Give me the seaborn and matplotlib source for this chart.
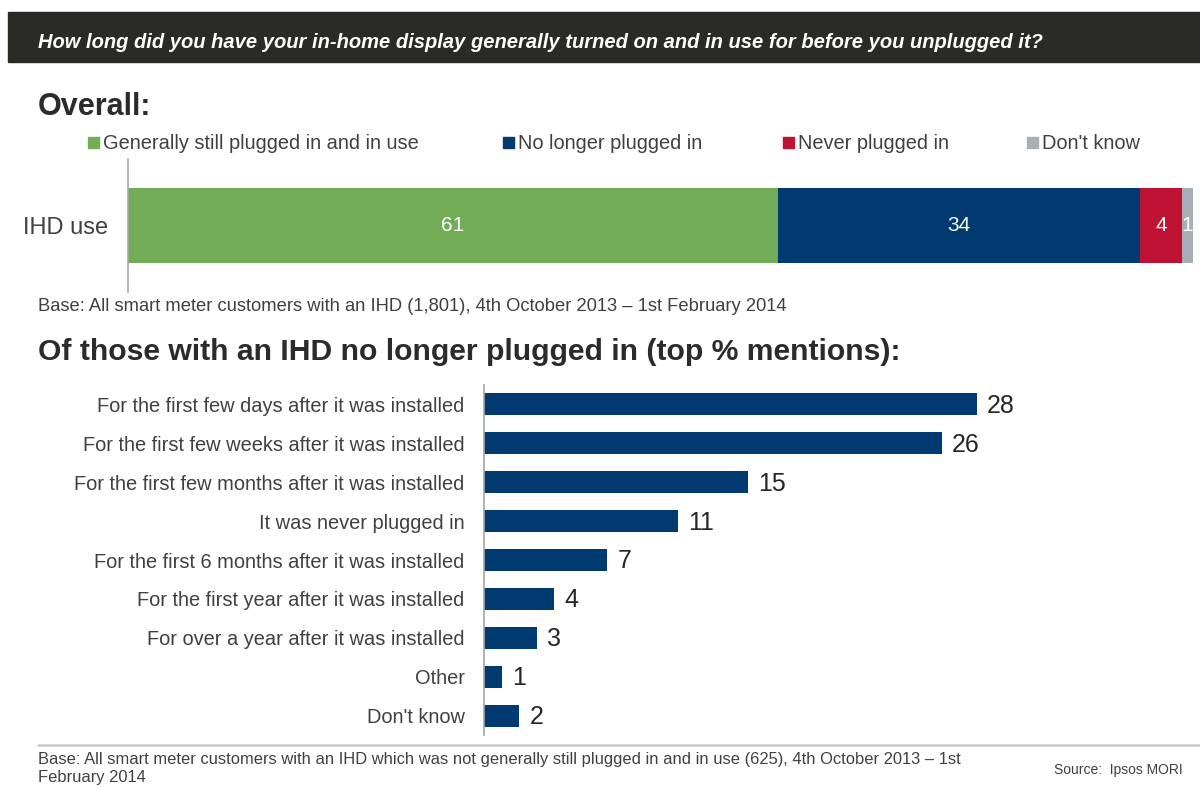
import numpy as np
import pandas as pd
import matplotlib
matplotlib.use("Agg")
import matplotlib.pyplot as plt
from matplotlib.patches import Rectangle
import seaborn as sns

# ---- data -------------------------------------------------------------
overall_labels = ["Generally still plugged in and in use", "No longer plugged in",
                  "Never plugged in", "Don't know"]
overall_values = [61, 34, 4, 1]
overall_row = "IHD use"

reason_labels = [
    "For the first few days after it was installed",
    "For the first few weeks after it was installed",
    "For the first few months after it was installed",
    "It was never plugged in",
    "For the first 6 months after it was installed",
    "For the first year after it was installed",
    "For over a year after it was installed",
    "Other",
    "Don't know",
]
reason_values = [28, 26, 15, 11, 7, 4, 3, 1, 2]

header_text = ("How long did you have your in-home display generally turned on "
               "and in use for before you unplugged it?")
title_overall = "Overall:"
title_reasons = "Of those with an IHD no longer plugged in (top % mentions):"
base_overall = "Base: All smart meter customers with an IHD (1,801), 4th October 2013 \u2013 1st February 2014"
base_reasons_1 = ("Base: All smart meter customers with an IHD which was not generally still plugged in "
                  "and in use (625), 4th October 2013 \u2013 1st")
base_reasons_2 = "February 2014"
source_text = "Source:  Ipsos MORI"

# ---- style ------------------------------------------------------------
sns.set_theme(style="white")
plt.rcParams["font.family"] = ["Liberation Sans", "DejaVu Sans"]

GREEN = "#72ac56"
NAVY = "#003a70"
RED = "#c01233"
GREY = "#a7aeb5"
seg_colors = [GREEN, NAVY, RED, GREY]
TXT = "#404040"
DARK = "#262626"
SPINE = "#a6a6a6"

W, H = 1200, 787
fig = plt.figure(figsize=(W / 100, H / 100), dpi=100)


def fx(x):
    return x / W


def fy(y):
    return 1 - y / H


def px_axes(x0, y0, x1, y1):
    return fig.add_axes([fx(x0), fy(y1), (x1 - x0) / W, (y1 - y0) / H])


# ---- header band ------------------------------------------------------
fig.patches.append(Rectangle((fx(8), fy(62)), (1200 - 8) / W, 50 / H,
                             transform=fig.transFigure, color="#2a2a26", zorder=0))
fig.text(fx(38), fy(48), header_text, color="white", fontsize=14.5,
         fontweight="bold", fontstyle="italic", va="baseline", ha="left")

# ---- overall stacked bar ---------------------------------------------
fig.text(fx(38), fy(115), title_overall, color="#2b2b2b", fontsize=22,
         fontweight="bold", va="baseline")

legend_x = [88, 503, 783, 1027]
for lx, lab, col in zip(legend_x, overall_labels, seg_colors):
    fig.patches.append(Rectangle((fx(lx), fy(148)), 11 / W, 11 / H,
                                 transform=fig.transFigure, color=col))
    fig.text(fx(lx + 15), fy(149), lab, color=TXT, fontsize=14.4, va="baseline")

ax1 = px_axes(128, 159, 1193, 292)
cum = np.cumsum(overall_values)
starts = cum - np.array(overall_values)
# overlapping cumulative bars produce the stacked look
for total, col in zip(cum[::-1], seg_colors[::-1]):
    sns.barplot(x=[total], y=[overall_row], orient="h", color=col,
                width=0.571, saturation=1, linewidth=0, ax=ax1)
for s, v in zip(starts, overall_values):
    ax1.text(s + v / 2, 0, str(v), color="white", fontsize=15,
             ha="center", va="center")
ax1.set_xlim(0, 100)
ax1.set_ylim(0.5, -0.5)
ax1.set_xlabel("")
ax1.set_ylabel("")
ax1.set_xticks([])
ax1.tick_params(axis="y", length=0, pad=14.4, labelsize=17, labelcolor=TXT)
for side in ["top", "right", "bottom"]:
    ax1.spines[side].set_visible(False)
ax1.spines["left"].set_color(SPINE)
ax1.spines["left"].set_linewidth(1.2)
ax1.set_facecolor("none")

fig.text(fx(38), fy(311), base_overall, color=TXT, fontsize=13.2, va="baseline")

# ---- reasons bar chart -----------------------------------------------
fig.text(fx(38), fy(360), title_reasons, color="#2b2b2b", fontsize=21.7,
         fontweight="bold", va="baseline")

ax2 = px_axes(484, 385, 1193, 735)
df = pd.DataFrame({"reason": reason_labels, "pct": reason_values})
sns.barplot(data=df, x="pct", y="reason", orient="h", color=NAVY,
            width=0.564, saturation=1, linewidth=0, ax=ax2)
for i, v in enumerate(reason_values):
    ax2.annotate(str(v), xy=(v, i), xytext=(7.5, -1), textcoords="offset points",
                 fontsize=18, color=DARK, ha="left", va="center")
ax2.set_xlim(0, 709 / 17.6)
ax2.set_ylim(len(reason_values) - 0.5, -0.5)
ax2.set_xlabel("")
ax2.set_ylabel("")
ax2.set_xticks([])
ax2.tick_params(axis="y", length=0, pad=14, labelsize=14.4, labelcolor=TXT)
for side in ["top", "right", "bottom"]:
    ax2.spines[side].set_visible(False)
ax2.spines["left"].set_color(SPINE)
ax2.spines["left"].set_linewidth(1.2)
ax2.set_facecolor("none")

# ---- footer -----------------------------------------------------------
fig.add_artist(plt.Line2D([fx(38), fx(1200)], [fy(745), fy(745)],
                          transform=fig.transFigure, color="#c8c8c8", lw=1.8))
fig.text(fx(38), fy(764), base_reasons_1, color=TXT, fontsize=11.9, va="baseline")
fig.text(fx(38), fy(782), base_reasons_2, color=TXT, fontsize=11.9, va="baseline")
fig.text(fx(1183), fy(774), source_text, color=TXT, fontsize=10,
         ha="right", va="baseline")

fig.savefig("out.png", dpi=100, facecolor="white")
